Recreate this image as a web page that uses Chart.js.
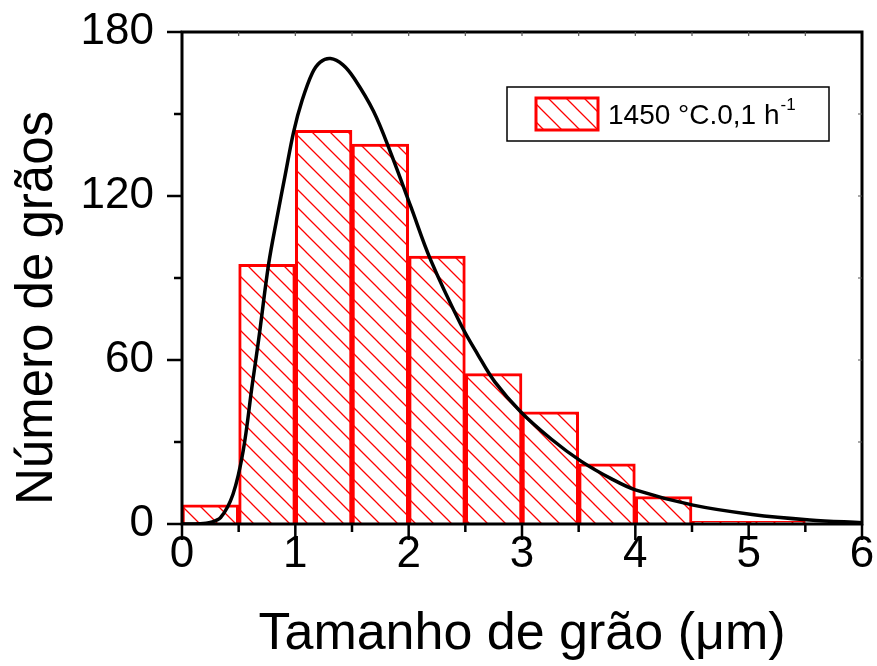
<!DOCTYPE html>
<html>
<head>
<meta charset="utf-8">
<script src="https://cdn.jsdelivr.net/npm/chart.js@4.4.0/dist/chart.umd.min.js"></script>
<style>
html, body { margin: 0; padding: 0; background: #fff; }
</style>
</head>
<body>
<canvas id="myChart" width="877" height="666"></canvas>
<script>
// histogram bins (centre of each 0.5 um bin) and counts
var binCenters = [0.25, 0.75, 1.25, 1.75, 2.25, 2.75, 3.25, 3.75, 4.25, 4.75, 5.25];
var binCounts = [7, 95, 144, 139, 98, 55, 41, 22, 10, 1, 1];

// fitted curve
var fitX = [0, 0.16, 0.25, 0.34, 0.45, 0.54, 0.62, 0.675, 0.764, 0.838, 0.912, 0.985, 1.06, 1.15, 1.22, 1.31, 1.42, 1.52, 1.69, 1.84, 2.02, 2.19, 2.46, 2.61, 2.76, 2.99, 3.26, 3.52, 3.79, 4.0, 4.51, 5.03, 5.54, 6.0];
var fitY = [0, 0.1, 0.6, 2.3, 10.9, 26.8, 51, 67, 95, 112, 128, 143.5, 155, 165, 169, 170.3, 168, 163, 151, 136, 116, 97, 73, 62, 52, 41, 31, 23, 16.5, 12.5, 6.9, 3.5, 1.5, 0.5];

var xTicks = [0, 1, 2, 3, 4, 5, 6];
var yTicks = [0, 60, 120, 180];
var legendText = '1450 °C.0,1 h';
var legendSup = '-1';

var FONT = "'Liberation Sans', Arial, sans-serif";

function hatch() {
    var s = 18;
    var c = document.createElement('canvas');
    c.width = s; c.height = s;
    var g = c.getContext('2d');
    g.fillStyle = '#fff';
    g.fillRect(0, 0, s, s);
    g.strokeStyle = '#ff0000';
    g.lineWidth = 1.3;
    g.beginPath();
    g.moveTo(-2, -2); g.lineTo(s + 2, s + 2);
    g.moveTo(s - 3, -3); g.lineTo(s + 3, 3);
    g.moveTo(-3, s - 3); g.lineTo(3, s + 3);
    g.stroke();
    return g.createPattern(c, 'repeat');
}

var ctx = document.getElementById('myChart').getContext('2d');
var pattern = hatch();

var frame = {
    id: 'frame',
    afterDraw: function (chart) {
        var c = chart.ctx, a = chart.chartArea;
        var sx = chart.scales.x, sy = chart.scales.y;
        c.save();
        c.strokeStyle = '#000';
        c.lineWidth = 3;
        c.strokeRect(a.left, a.top, a.right - a.left, a.bottom - a.top);

        // outer ticks, major + minor
        c.lineWidth = 2.5;
        c.beginPath();
        for (var v = 0; v <= 6; v += 0.5) {
            var px = sx.getPixelForValue(v);
            var len = (v % 1 === 0) ? 16 : 8;
            c.moveTo(px, a.bottom); c.lineTo(px, a.bottom + len);
        }
        for (var w = 0; w <= 180; w += 30) {
            var py = sy.getPixelForValue(w);
            var l2 = (w % 60 === 0) ? 15 : 8;
            c.moveTo(a.left, py); c.lineTo(a.left - l2, py);
        }
        c.stroke();

        // small inner ticks on top and right
        c.lineWidth = 1.2;
        c.strokeStyle = '#555';
        c.beginPath();
        for (var v2 = 0.5; v2 < 6; v2 += 0.5) {
            var qx = sx.getPixelForValue(v2);
            c.moveTo(qx, a.top); c.lineTo(qx, a.top + 4);
        }
        for (var w2 = 30; w2 < 180; w2 += 30) {
            var qy = sy.getPixelForValue(w2);
            c.moveTo(a.right, qy); c.lineTo(a.right - 4, qy);
        }
        c.stroke();

        // y title
        c.fillStyle = '#000';
        c.font = '51px ' + FONT;
        c.textAlign = 'center';
        c.textBaseline = 'alphabetic';
        c.translate(52, 308);
        c.rotate(-Math.PI / 2);
        c.fillText('Número de grãos', 0, 0);
        c.restore();

        // legend
        c.save();
        c.fillStyle = '#fff';
        c.fillRect(507, 87, 322, 54);
        c.strokeStyle = '#000';
        c.lineWidth = 1.5;
        c.strokeRect(507, 87, 322, 54);
        c.fillStyle = pattern;
        c.fillRect(536, 98, 62, 32);
        c.strokeStyle = '#ff0000';
        c.lineWidth = 3;
        c.strokeRect(536, 98, 62, 32);
        c.fillStyle = '#000';
        c.font = '28px ' + FONT;
        c.textAlign = 'left';
        c.textBaseline = 'alphabetic';
        c.fillText(legendText, 608, 124);
        var tw = c.measureText(legendText).width;
        c.font = '17px ' + FONT;
        c.fillText(legendSup, 608 + tw + 1, 110);
        c.restore();
    }
};

var myChart = new Chart(ctx, {
    type: 'bar',
    data: {
        datasets: [{
            type: 'line',
            label: 'fit',
            data: fitX.map(function (x, i) { return { x: x, y: fitY[i] }; }),
            borderColor: '#000',
            borderWidth: 3.5,
            pointRadius: 0,
            fill: false,
            tension: 0.35,
            order: 0
        }, {
            type: 'bar',
            label: legendText + legendSup,
            data: binCenters.map(function (x, i) { return { x: x, y: binCounts[i] }; }),
            backgroundColor: pattern,
            borderColor: '#ff0000',
            borderWidth: 3,
            borderSkipped: 'start',
            barPercentage: 1,
            categoryPercentage: 1,
            order: 1
        }]
    },
    options: {
        responsive: false,
        animation: false,
        layout: { padding: { top: 32, right: 15, left: 0, bottom: 0 } },
        plugins: { legend: { display: false }, tooltip: { enabled: false } },
        scales: {
            x: {
                type: 'linear',
                min: 0, max: 6,
                offset: false,
                grid: { display: false, drawTicks: false },
                border: { display: false },
                afterBuildTicks: function (s) { s.ticks = xTicks.map(function (v) { return { value: v }; }); },
                ticks: { color: '#000', font: { family: FONT, size: 44 }, padding: 4, maxRotation: 0 },
                title: { display: true, text: 'Tamanho de grão (μm)', color: '#000', font: { family: FONT, size: 52 }, padding: { top: 0, bottom: 0 } },
                afterFit: function (s) { s.height = 142; s.paddingLeft = 0; s.paddingRight = 0; }
            },
            y: {
                min: 0, max: 180,
                grid: { display: false, drawTicks: false },
                border: { display: false },
                afterBuildTicks: function (s) { s.ticks = yTicks.map(function (v) { return { value: v }; }); },
                ticks: { color: '#000', font: { family: FONT, size: 44 }, padding: 28 },
                afterFit: function (s) { s.width = 182; s.paddingTop = 0; s.paddingBottom = 0; }
            }
        }
    },
    plugins: [frame]
});
</script>
</body>
</html>
